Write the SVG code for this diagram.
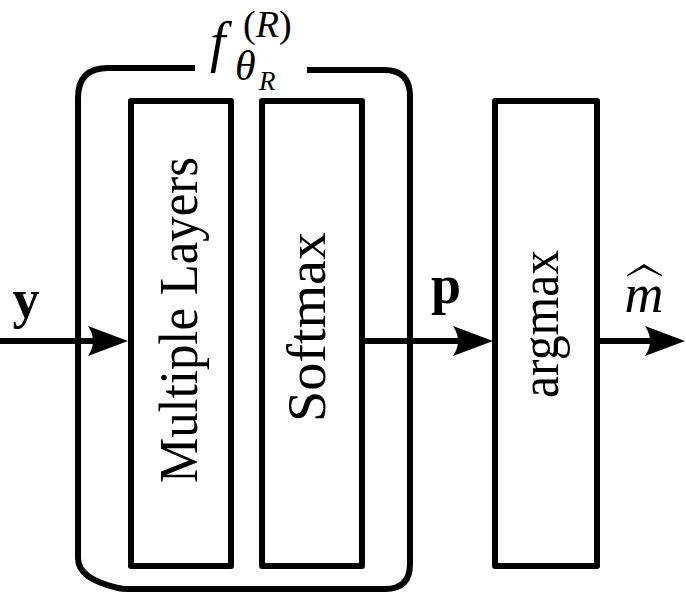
<svg xmlns="http://www.w3.org/2000/svg" width="686" height="596" viewBox="0 0 686 596">
<style>
.box{fill:none;stroke:#000;stroke-width:6;stroke-linejoin:round}
.ln{fill:none;stroke:#000;stroke-width:6}
.ah{fill:#000;stroke:none}
.lbl{font-family:"Liberation Serif","Times New Roman",serif;fill:#000}
.rot{font-size:54px}
.bold{font-weight:bold;font-size:54px}
.it{font-style:italic}
</style>
<rect width="686" height="596" fill="#fff"/>
<g id="group-f">
<path class="box" d="M195,68 H108 Q78,68 78,98 V558 C78,573 92,582 118,588 Q122,589 128,589 H385 Q410,589 410,564 V96 Q410,70 384,70 H307"/>
<text class="lbl it" x="210" y="61" font-size="56">f</text>
<text class="lbl" x="243" y="37" font-size="38">(<tspan class="it">R</tspan>)</text>
<text class="lbl it" x="235" y="80" font-size="42">θ</text>
<text class="lbl it" x="259" y="90" font-size="27">R</text>
</g>
<g id="node-layers">
<rect class="box" x="131" y="101" width="100" height="465"/>
<text class="lbl rot" transform="translate(197,320) rotate(-90)" text-anchor="middle" textLength="326" lengthAdjust="spacingAndGlyphs">Multiple Layers</text>
</g>
<g id="node-softmax">
<rect class="box" x="262" y="101" width="100" height="465"/>
<text class="lbl rot" transform="translate(325,327) rotate(-90)" text-anchor="middle" textLength="190" lengthAdjust="spacingAndGlyphs">Softmax</text>
</g>
<g id="node-argmax">
<rect class="box" x="495" y="101" width="102" height="465"/>
<text class="lbl rot" transform="translate(558,324) rotate(-90)" text-anchor="middle" textLength="148" lengthAdjust="spacingAndGlyphs">argmax</text>
</g>
<g id="connectors">
<line class="ln" x1="0" y1="341" x2="112" y2="341"/>
<path class="ah" d="M128,341 L88,326 Q98,341 88,356 Z"/>
<line class="ln" x1="362" y1="341" x2="477" y2="341"/>
<path class="ah" d="M493,341 L453,326 Q463,341 453,356 Z"/>
<line class="ln" x1="597" y1="341" x2="669" y2="341"/>
<path class="ah" d="M685,341 L645,326 Q655,341 645,356 Z"/>
</g>
<g id="labels">
<text class="lbl bold" x="26" y="317" text-anchor="middle">y</text>
<text class="lbl bold" x="446" y="303" text-anchor="middle">p</text>
<text class="lbl it" x="644" y="312" font-size="54" text-anchor="middle">m</text>
<path class="ah" d="M627,275 L644,264 L662,275 L662,276.5 L644,267.5 L627,276.5 Z"/>
</g>
</svg>
